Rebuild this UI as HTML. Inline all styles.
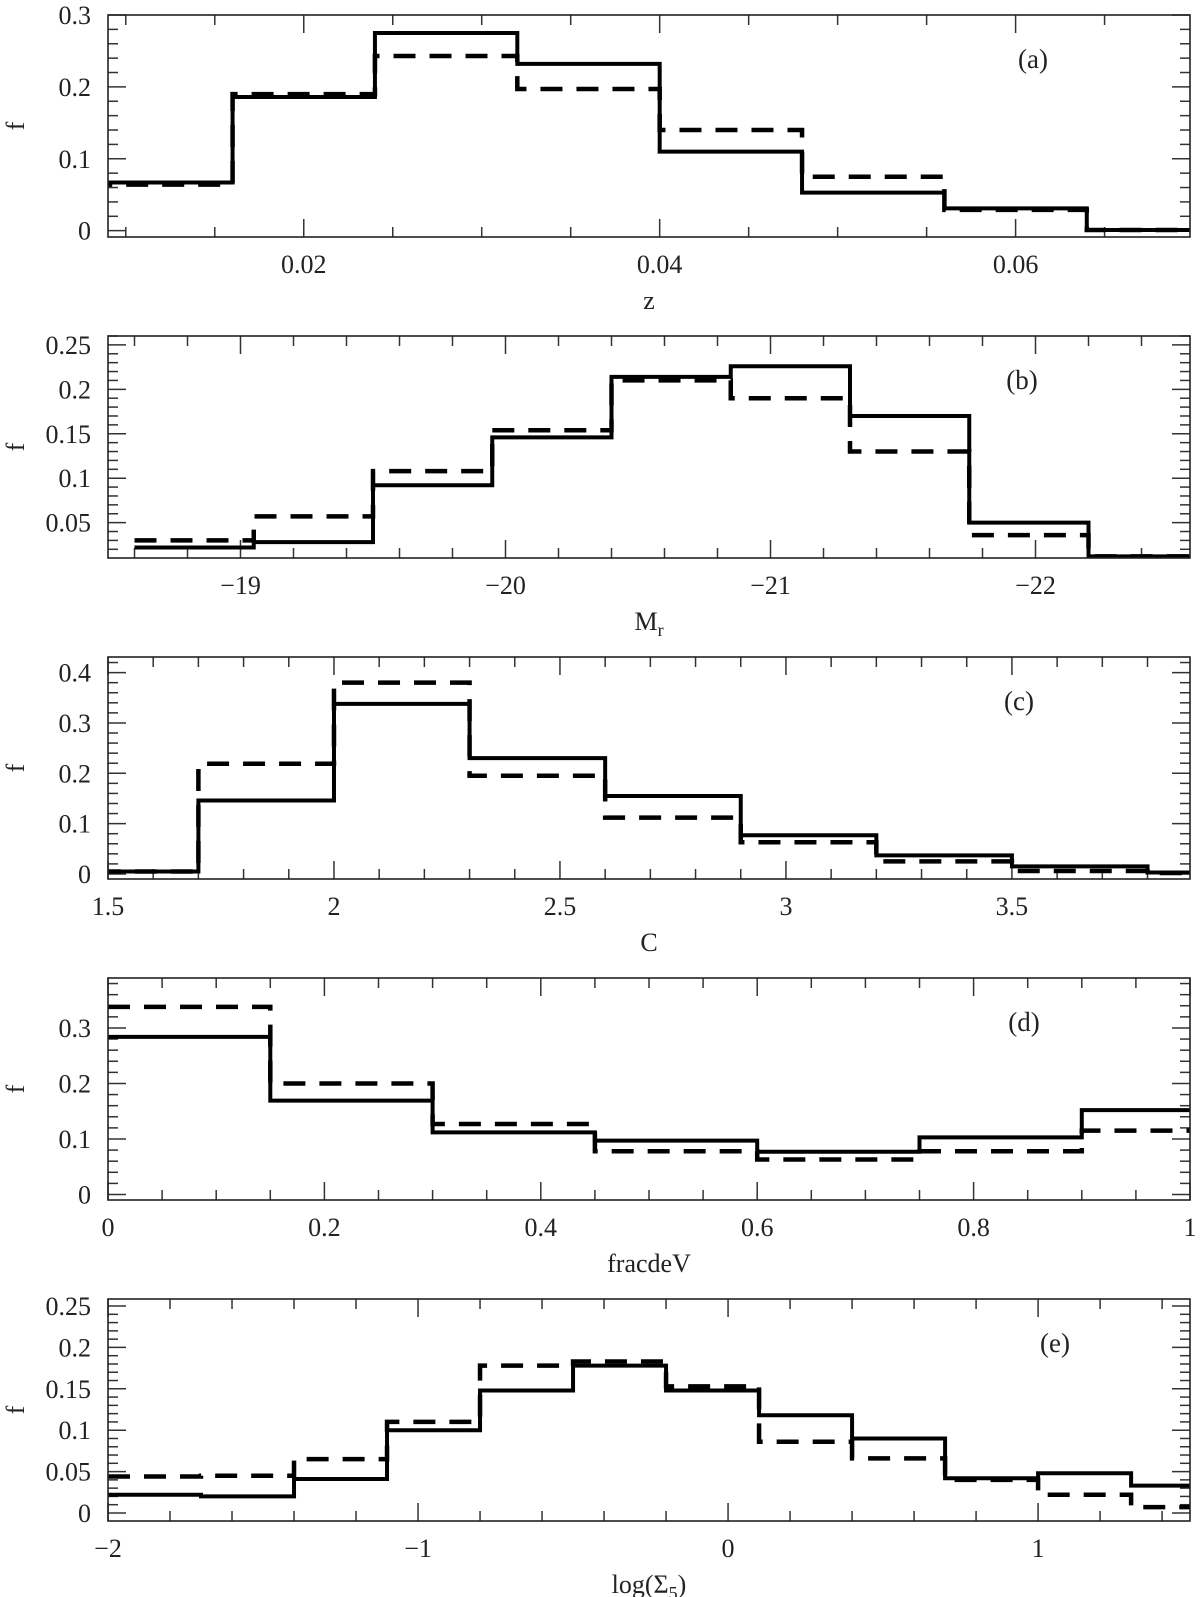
<!DOCTYPE html>
<html><head><meta charset="utf-8"><title>Histograms</title>
<style>
html,body{margin:0;padding:0;background:#fff;}
svg{display:block;}
text{font-family:"Liberation Serif","DejaVu Serif",serif;fill:#222;}
</style></head>
<body>
<svg id="fig" width="1200" height="1597" viewBox="0 0 1200 1597" xmlns="http://www.w3.org/2000/svg"></svg>
<script>
// ---- Panel (a): z ----
const aEdges = [0.008,0.016,0.024,0.032,0.040,0.048,0.056,0.064,0.072];
const aSolid = [0.067,0.186,0.275,0.232,0.110,0.053,0.031,0.001];
const aDashed = [0.064,0.190,0.243,0.197,0.140,0.075,0.029,0.001];
const aXTicks = [0.02,0.04,0.06];
const aXTickLabels = ["0.02","0.04","0.06"];
const aYTicks = [0,0.1,0.2,0.3];
const aYTickLabels = ["0","0.1","0.2","0.3"];
// ---- Panel (b): M_r ----
const bEdges = [-18.6,-19.05,-19.5,-19.95,-20.4,-20.85,-21.3,-21.75,-22.2,-22.65];
const bSolid = [0.022,0.028,0.092,0.146,0.214,0.226,0.170,0.050,0.012];
const bDashed = [0.030,0.057,0.108,0.154,0.210,0.190,0.130,0.036,0.012];
const bXTicks = [-19,-20,-21,-22];
const bXTickLabels = ["−19","−20","−21","−22"];
const bYTicks = [0.05,0.1,0.15,0.2,0.25];
const bYTickLabels = ["0.05","0.1","0.15","0.2","0.25"];
// ---- Panel (c): C ----
const cEdges = [1.4,1.7,2.0,2.3,2.6,2.9,3.2,3.5,3.8,4.1];
const cSolid = [0.005,0.146,0.338,0.230,0.155,0.077,0.037,0.015,0.003];
const cDashed = [0.005,0.219,0.380,0.195,0.112,0.063,0.025,0.006,0.002];
const cXTicks = [1.5,2,2.5,3,3.5];
const cXTickLabels = ["1.5","2","2.5","3","3.5"];
const cYTicks = [0,0.1,0.2,0.3,0.4];
const cYTickLabels = ["0","0.1","0.2","0.3","0.4"];
// ---- Panel (d): fracdeV ----
const dEdges = [0,0.15,0.30,0.45,0.60,0.75,0.90,1.05];
const dSolid = [0.284,0.169,0.112,0.097,0.077,0.103,0.152];
const dDashed = [0.338,0.200,0.127,0.078,0.063,0.078,0.115];
const dXTicks = [0,0.2,0.4,0.6,0.8,1];
const dXTickLabels = ["0","0.2","0.4","0.6","0.8","1"];
const dYTicks = [0,0.1,0.2,0.3];
const dYTickLabels = ["0","0.1","0.2","0.3"];
// ---- Panel (e): log(Sigma5) ----
const eEdges = [-2,-1.7,-1.4,-1.1,-0.8,-0.5,-0.2,0.1,0.4,0.7,1.0,1.3,1.6];
const eSolid = [0.022,0.020,0.041,0.100,0.148,0.178,0.148,0.118,0.090,0.042,0.048,0.033];
const eDashed = [0.044,0.045,0.065,0.110,0.178,0.183,0.153,0.086,0.066,0.040,0.022,0.007];
const eXTicks = [-2,-1,0,1];
const eXTickLabels = ["−2","−1","0","1"];
const eYTicks = [0,0.05,0.1,0.15,0.2,0.25];
const eYTickLabels = ["0","0.05","0.1","0.15","0.2","0.25"];

const NS = "http://www.w3.org/2000/svg";
const svg = document.getElementById("fig");
function mk(tag, attrs, parent){
  const el = document.createElementNS(NS, tag);
  for (const k in attrs) el.setAttribute(k, attrs[k]);
  (parent||svg).appendChild(el);
  return el;
}

const panels = [
 {id:"a", top:15, bottom:237, x0:0.009, x1:0.0698, y0:-0.0088, y1:0.3, xMinor:0.005, yMinor:0.02,
  edges:aEdges, solid:aSolid, dashed:aDashed, xt:aXTicks, xl:aXTickLabels, yt:aYTicks, yl:aYTickLabels,
  title:"z", lab:"(a)", labX:1033},
 {id:"b", top:336, bottom:558, x0:-18.5, x1:-22.583, y0:0.0102, y1:0.26, xMinor:0.2, yMinor:0.01,
  edges:bEdges, solid:bSolid, dashed:bDashed, xt:bXTicks, xl:bXTickLabels, yt:bYTicks, yl:bYTickLabels,
  title:"M_r", lab:"(b)", labX:1022},
 {id:"c", top:657, bottom:879, x0:1.5, x1:3.894, y0:-0.01, y1:0.431, xMinor:0.1, yMinor:0.02,
  edges:cEdges, solid:cSolid, dashed:cDashed, xt:cXTicks, xl:cXTickLabels, yt:cYTicks, yl:cYTickLabels,
  title:"C", lab:"(c)", labX:1019},
 {id:"d", top:978, bottom:1200, x0:0, x1:1, y0:-0.0099, y1:0.39, xMinor:0.05, yMinor:0.02,
  edges:dEdges, solid:dSolid, dashed:dDashed, xt:dXTicks, xl:dXTickLabels, yt:dYTicks, yl:dYTickLabels,
  title:"fracdeV", lab:"(d)", labX:1024},
 {id:"e", top:1299, bottom:1521, x0:-2, x1:1.49, y0:-0.0097, y1:0.2585, xMinor:0.2, yMinor:0.01,
  edges:eEdges, solid:eSolid, dashed:eDashed, xt:eXTicks, xl:eXTickLabels, yt:eYTicks, yl:eYTickLabels,
  title:"log_5", lab:"(e)", labX:1055}
];
const L = 108, R = 1190;

panels.forEach(p => {
  const g = mk("g", {});
  
  
  const sx = v => L + (v - p.x0) / (p.x1 - p.x0) * (R - L);
  const sy = v => p.bottom - (v - p.y0) / (p.y1 - p.y0) * (p.bottom - p.top);

  const cp = mk("clipPath", {id:"clip-"+p.id}, g);
  mk("rect", {x:L, y:p.top, width:R-L, height:p.bottom-p.top}, cp);

  const ticks = mk("g", {stroke:"#333", "stroke-width":1.5}, g);
  
  
  const lo = Math.min(p.x0,p.x1), hi = Math.max(p.x0,p.x1);
  const xStep = Math.abs(p.xt[1]-p.xt[0]);
  const isMajorX = v => Math.abs(v/xStep - Math.round(v/xStep)) < 1e-6;
  for (let k = Math.ceil(lo / p.xMinor - 1e-6); k * p.xMinor <= hi + 1e-9; k++) {
    const v = k * p.xMinor, x = sx(v), len = isMajorX(v) ? 18 : 10;
    mk("line", {x1:x, x2:x, y1:p.bottom, y2:p.bottom-len}, ticks);
    mk("line", {x1:x, x2:x, y1:p.top, y2:p.top+len}, ticks);
  }
  const yStep = p.yt[1] - p.yt[0];
  for (let k = Math.ceil(p.y0 / p.yMinor - 1e-6); k * p.yMinor <= p.y1 + 1e-9; k++) {
    const v = k * p.yMinor, y = sy(v);
    const major = Math.abs(v / yStep - Math.round(v / yStep)) < 1e-6;
    const len = major ? 18 : 10;
    mk("line", {x1:L, x2:L+len, y1:y, y2:y}, ticks);
    mk("line", {x1:R, x2:R-len, y1:y, y2:y}, ticks);
  }

  function stepPath(vals){
    let d = "";
    for (let i = 0; i < vals.length; i++) {
      const xa = sx(p.edges[i]), xb = sx(p.edges[i+1]), y = sy(vals[i]);
      d += (i === 0 ? "M" + xa + "," + y : "L" + xa + "," + y) + " L" + xb + "," + y + " ";
    }
    return d;
  }
  const dash = mk("path", {d:stepPath(p.dashed), fill:"none", stroke:"#000", "stroke-width":4.5,
    "stroke-dasharray":"22 14", "clip-path":"url(#clip-"+p.id+")"}, g);
  
  
  const sol = mk("path", {d:stepPath(p.solid), fill:"none", stroke:"#000", "stroke-width":4,
    "clip-path":"url(#clip-"+p.id+")"}, g);
  
  

  const fr = mk("rect", {x:L, y:p.top, width:R-L, height:p.bottom-p.top, fill:"none", stroke:"#222", "stroke-width":1.6}, g);
  
  

  p.xt.forEach((v, i) => {
    const t = mk("text", {x:sx(v), y:p.bottom+36, "text-anchor":"middle", "font-size":26}, g);
    
    
    t.textContent = p.xl[i];
  });
  p.yt.forEach((v, i) => {
    const t = mk("text", {x:91, y:sy(v)+9, "text-anchor":"end", "font-size":26}, g);
    
    
    t.textContent = p.yl[i];
  });

  const yt = mk("text", {x:24, y:(p.top+p.bottom)/2, "text-anchor":"middle", "font-size":26,
    transform:"rotate(-90 24 " + ((p.top+p.bottom)/2) + ")"}, g);
  
  
  yt.textContent = "f";

  const xt = mk("text", {x:649, y:p.bottom+72, "text-anchor":"middle", "font-size":26}, g);
  
  
  if (p.title === "M_r") {
    xt.textContent = "M";
    const s = mk("tspan", {"font-size":18, dy:6}, xt); s.textContent = "r";
  } else if (p.title === "log_5") {
    xt.textContent = "log(Σ";
    const s = mk("tspan", {"font-size":18, dy:6}, xt); s.textContent = "5";
    const s2 = mk("tspan", {dy:-6}, xt); s2.textContent = ")";
  } else {
    xt.textContent = p.title;
  }

  const lb = mk("text", {x:p.labX, y:p.top+53, "text-anchor":"middle", "font-size":27}, g);
  
  
  lb.textContent = p.lab;
});
</script>
</body></html>
